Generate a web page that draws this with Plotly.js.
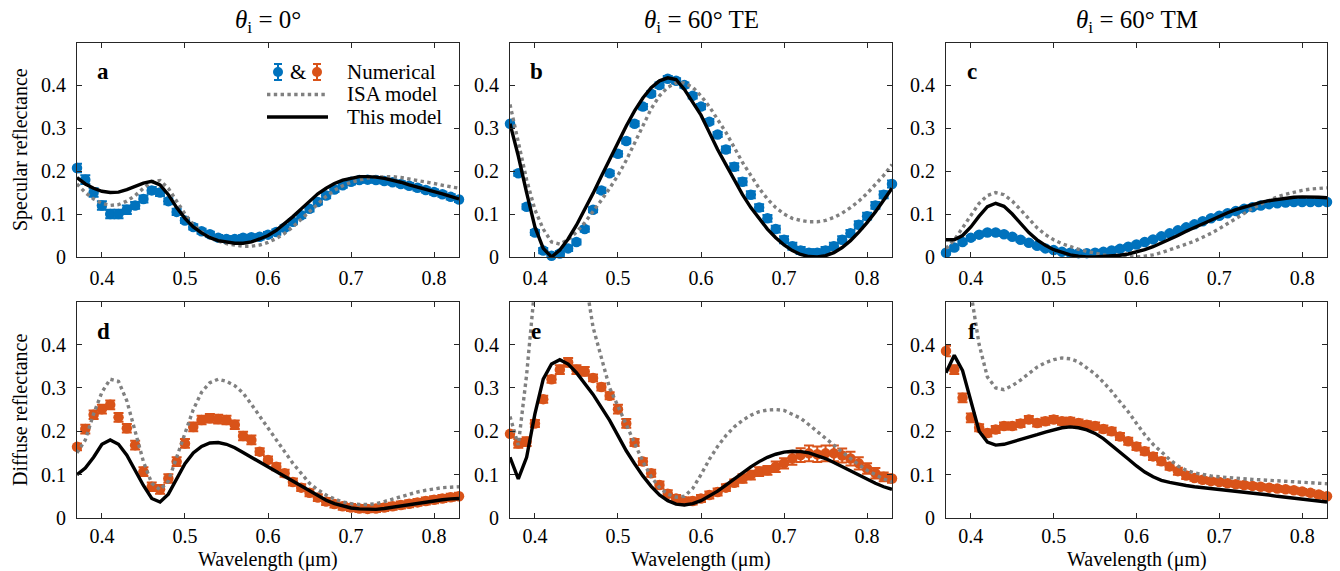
<!DOCTYPE html>
<html>
<head>
<meta charset="utf-8">
<script src="https://cdn.plot.ly/plotly-3.0.1.min.js"></script>
<style>html,body{margin:0;padding:0;background:#fff;}#chart{width:1340px;height:571px;}</style>
</head>
<body>
<div id="chart"></div>
<script>
// Wavelength grid (µm)
const lam = [0.37,0.38,0.39,0.40,0.41,0.42,0.43,0.44,0.45,0.46,0.47,0.48,0.49,0.50,0.51,0.52,0.53,0.54,0.55,0.56,0.57,0.58,0.59,0.60,0.61,0.62,0.63,0.64,0.65,0.66,0.67,0.68,0.69,0.70,0.71,0.72,0.73,0.74,0.75,0.76,0.77,0.78,0.79,0.80,0.81,0.82,0.83];

// Panel a: specular, theta = 0
const numA = [0.207,0.18,0.15,0.12,0.10,0.10,0.11,0.12,0.135,0.155,0.15,0.13,0.105,0.085,0.07,0.06,0.053,0.045,0.042,0.042,0.045,0.046,0.047,0.052,0.058,0.068,0.082,0.097,0.112,0.128,0.143,0.157,0.167,0.175,0.179,0.18,0.179,0.177,0.174,0.17,0.166,0.161,0.156,0.151,0.146,0.14,0.134];
const errA = [0.01,0.01,0.01,0.01,0.01,0.01,0.01,0.008,0.008,0.008,0.008,0.007,0.007,0.006,0.006,0.006,0.006,0.006,0.006,0.006,0.006,0.006,0.006,0.006,0.006,0.006,0.006,0.006,0.006,0.006,0.006,0.006,0.006,0.006,0.006,0.006,0.006,0.006,0.006,0.006,0.006,0.006,0.006,0.006,0.006,0.006,0.006];
const isaA = [0.17,0.15,0.135,0.125,0.12,0.122,0.13,0.143,0.16,0.175,0.178,0.16,0.13,0.1,0.075,0.058,0.046,0.037,0.031,0.027,0.025,0.025,0.028,0.034,0.043,0.055,0.07,0.088,0.106,0.124,0.141,0.155,0.166,0.174,0.18,0.184,0.186,0.187,0.187,0.185,0.182,0.179,0.175,0.171,0.167,0.163,0.16];
const modA = [0.185,0.17,0.16,0.153,0.15,0.151,0.157,0.165,0.172,0.176,0.168,0.145,0.115,0.09,0.07,0.056,0.045,0.038,0.034,0.032,0.032,0.035,0.042,0.05,0.062,0.077,0.094,0.112,0.13,0.147,0.16,0.171,0.179,0.184,0.187,0.187,0.186,0.183,0.179,0.174,0.168,0.162,0.157,0.152,0.147,0.141,0.135];

// Panel b: specular, theta = 60 TE
const numB = [0.31,0.195,0.117,0.057,0.015,0.003,0.008,0.02,0.035,0.065,0.11,0.155,0.195,0.24,0.27,0.31,0.35,0.38,0.40,0.415,0.41,0.40,0.375,0.35,0.315,0.285,0.25,0.21,0.175,0.145,0.115,0.09,0.065,0.04,0.025,0.015,0.01,0.01,0.015,0.025,0.04,0.055,0.075,0.095,0.12,0.145,0.17];
const errB = [0.008,0.006,0.006,0.006,0.006,0.006,0.006,0.006,0.006,0.006,0.006,0.006,0.006,0.006,0.006,0.006,0.006,0.006,0.006,0.006,0.006,0.006,0.006,0.006,0.006,0.006,0.007,0.008,0.008,0.008,0.008,0.008,0.008,0.008,0.008,0.008,0.008,0.008,0.008,0.008,0.008,0.008,0.008,0.008,0.008,0.008,0.008];
const isaB = [0.355,0.265,0.18,0.11,0.065,0.035,0.03,0.04,0.058,0.08,0.105,0.132,0.16,0.19,0.225,0.265,0.305,0.345,0.375,0.395,0.405,0.405,0.395,0.375,0.35,0.32,0.29,0.255,0.22,0.19,0.16,0.135,0.115,0.1,0.09,0.085,0.082,0.082,0.085,0.092,0.102,0.115,0.13,0.148,0.168,0.19,0.215];
const modB = [0.31,0.235,0.15,0.07,0.02,0.0,0.016,0.042,0.074,0.109,0.148,0.188,0.228,0.267,0.305,0.34,0.37,0.394,0.41,0.417,0.413,0.39,0.36,0.33,0.29,0.25,0.215,0.18,0.145,0.115,0.09,0.065,0.045,0.028,0.015,0.006,0.001,0.0,0.003,0.01,0.022,0.038,0.058,0.08,0.105,0.132,0.16];

// Panel c: specular, theta = 60 TM
const numC = [0.01,0.022,0.035,0.045,0.052,0.057,0.057,0.053,0.047,0.04,0.033,0.026,0.02,0.016,0.012,0.01,0.009,0.009,0.01,0.012,0.015,0.019,0.024,0.029,0.035,0.041,0.048,0.055,0.062,0.069,0.076,0.083,0.09,0.096,0.102,0.107,0.112,0.116,0.12,0.123,0.125,0.127,0.128,0.128,0.128,0.128,0.128];
const errC = [0.004,0.004,0.004,0.004,0.004,0.004,0.004,0.004,0.004,0.004,0.004,0.004,0.004,0.004,0.004,0.004,0.004,0.004,0.004,0.004,0.004,0.004,0.004,0.004,0.004,0.004,0.004,0.004,0.004,0.004,0.004,0.004,0.004,0.004,0.004,0.004,0.004,0.004,0.004,0.004,0.004,0.004,0.004,0.004,0.004,0.004,0.004];
const isaC = [0.02,0.04,0.068,0.098,0.125,0.143,0.15,0.145,0.13,0.11,0.088,0.068,0.052,0.04,0.031,0.024,0.018,0.013,0.008,0.005,0.002,0.001,0.0,0.0,0.002,0.005,0.01,0.016,0.023,0.03,0.037,0.045,0.055,0.066,0.078,0.09,0.102,0.113,0.123,0.132,0.14,0.146,0.151,0.155,0.158,0.16,0.161];
const modC = [0.04,0.04,0.05,0.07,0.095,0.117,0.125,0.118,0.1,0.078,0.057,0.04,0.027,0.017,0.01,0.005,0.002,0.0,0.0,0.001,0.002,0.004,0.007,0.011,0.017,0.024,0.032,0.041,0.05,0.06,0.069,0.078,0.087,0.095,0.103,0.11,0.116,0.122,0.127,0.131,0.134,0.137,0.139,0.14,0.14,0.139,0.138];

// Panel d: diffuse, theta = 0
const numD = [0.164,0.205,0.238,0.251,0.261,0.232,0.207,0.168,0.107,0.072,0.066,0.091,0.13,0.172,0.21,0.226,0.23,0.228,0.226,0.215,0.189,0.18,0.153,0.134,0.118,0.103,0.083,0.07,0.058,0.047,0.038,0.032,0.027,0.024,0.022,0.021,0.022,0.024,0.027,0.03,0.033,0.036,0.039,0.042,0.045,0.048,0.05];
const errD = [0.008,0.01,0.01,0.01,0.01,0.01,0.01,0.01,0.01,0.01,0.01,0.01,0.01,0.01,0.01,0.01,0.01,0.01,0.01,0.01,0.01,0.01,0.008,0.008,0.008,0.008,0.008,0.008,0.008,0.008,0.008,0.008,0.008,0.008,0.008,0.008,0.008,0.008,0.008,0.008,0.008,0.008,0.008,0.008,0.008,0.008,0.008];
const isaD = [0.15,0.18,0.24,0.29,0.32,0.315,0.27,0.2,0.13,0.08,0.065,0.085,0.14,0.2,0.25,0.29,0.312,0.32,0.315,0.305,0.288,0.262,0.234,0.207,0.18,0.153,0.126,0.102,0.08,0.065,0.053,0.044,0.037,0.033,0.031,0.031,0.033,0.038,0.044,0.05,0.055,0.06,0.064,0.068,0.07,0.071,0.072];
const modD = [0.1,0.115,0.14,0.17,0.18,0.17,0.145,0.11,0.075,0.045,0.037,0.055,0.09,0.125,0.15,0.165,0.173,0.174,0.17,0.162,0.151,0.14,0.129,0.118,0.107,0.095,0.083,0.072,0.061,0.05,0.041,0.033,0.027,0.023,0.021,0.02,0.02,0.022,0.025,0.028,0.031,0.034,0.037,0.04,0.042,0.044,0.045];

// Panel e: diffuse, theta = 60 TE
const numE = [0.194,0.172,0.176,0.218,0.274,0.32,0.342,0.359,0.342,0.338,0.323,0.302,0.282,0.251,0.218,0.174,0.13,0.103,0.076,0.056,0.045,0.039,0.039,0.045,0.053,0.06,0.07,0.081,0.091,0.099,0.107,0.11,0.118,0.126,0.137,0.145,0.149,0.147,0.149,0.149,0.144,0.137,0.126,0.114,0.103,0.095,0.091];
const errE = [0.008,0.01,0.01,0.008,0.008,0.008,0.01,0.01,0.01,0.01,0.008,0.008,0.008,0.01,0.01,0.008,0.008,0.008,0.008,0.008,0.008,0.008,0.008,0.008,0.008,0.008,0.008,0.008,0.01,0.01,0.01,0.01,0.012,0.012,0.014,0.016,0.018,0.018,0.018,0.018,0.016,0.016,0.014,0.012,0.012,0.01,0.01];
const isaE = [0.234,0.168,0.33,0.62,0.85,0.95,0.9,0.78,0.66,0.56,0.44,0.37,0.3,0.258,0.215,0.172,0.13,0.095,0.07,0.055,0.048,0.05,0.068,0.1,0.135,0.165,0.19,0.21,0.225,0.237,0.245,0.249,0.25,0.248,0.24,0.23,0.215,0.2,0.185,0.168,0.152,0.137,0.123,0.11,0.1,0.09,0.083];
const modE = [0.14,0.09,0.14,0.24,0.32,0.355,0.365,0.355,0.335,0.31,0.285,0.255,0.225,0.19,0.155,0.125,0.097,0.073,0.053,0.04,0.032,0.03,0.033,0.04,0.05,0.062,0.076,0.09,0.105,0.118,0.13,0.14,0.147,0.152,0.154,0.153,0.15,0.144,0.137,0.128,0.118,0.108,0.098,0.088,0.08,0.072,0.066];

// Panel f: diffuse, theta = 60 TM
const numF = [0.385,0.342,0.277,0.231,0.208,0.196,0.204,0.212,0.212,0.218,0.227,0.219,0.223,0.227,0.223,0.223,0.219,0.215,0.212,0.205,0.2,0.188,0.177,0.165,0.154,0.142,0.131,0.119,0.108,0.098,0.092,0.088,0.085,0.083,0.08,0.078,0.076,0.074,0.072,0.07,0.068,0.066,0.064,0.061,0.058,0.054,0.05];
const errF = [0.012,0.01,0.01,0.01,0.008,0.008,0.008,0.008,0.008,0.008,0.008,0.008,0.008,0.008,0.008,0.008,0.008,0.008,0.008,0.008,0.008,0.008,0.008,0.008,0.008,0.008,0.008,0.008,0.008,0.008,0.006,0.006,0.006,0.006,0.006,0.006,0.006,0.006,0.006,0.006,0.006,0.006,0.006,0.006,0.006,0.006,0.006];
const isaF = [0.9,0.75,0.62,0.52,0.4,0.325,0.3,0.296,0.305,0.318,0.334,0.348,0.358,0.365,0.369,0.367,0.36,0.347,0.332,0.313,0.292,0.268,0.245,0.218,0.192,0.17,0.152,0.135,0.12,0.11,0.104,0.1,0.097,0.095,0.093,0.092,0.09,0.089,0.088,0.087,0.086,0.085,0.084,0.082,0.081,0.08,0.079];
const modF = [0.335,0.375,0.34,0.27,0.2,0.175,0.168,0.17,0.175,0.18,0.186,0.192,0.198,0.204,0.208,0.21,0.208,0.203,0.195,0.183,0.168,0.152,0.136,0.12,0.106,0.095,0.087,0.082,0.078,0.075,0.072,0.07,0.068,0.066,0.064,0.062,0.06,0.058,0.055,0.053,0.05,0.048,0.046,0.043,0.041,0.039,0.037];

// Texts
const colTitles = ['<i>θ</i><sub>i</sub> = 0°', '<i>θ</i><sub>i</sub> = 60° TE', '<i>θ</i><sub>i</sub> = 60° TM'];
const panelLetters = ['a','b','c','d','e','f'];
const rowTitles = ['Specular reflectance', 'Diffuse reflectance'];
const xTitle = 'Wavelength (μm)';
const legendLabels = ['Numerical', 'ISA model', 'This model'];
const xTicks = [0.4, 0.5, 0.6, 0.7, 0.8];
const yTicks = [0, 0.1, 0.2, 0.3, 0.4];
const yTickText = ['0', '0.1', '0.2', '0.3', '0.4'];

const BLUE = '#0072BD', ORANGE = '#D95319', GRAY = '#808080';
const FONT = 'Liberation Serif';
const W = 1340, H = 571;
const cols = [[77, 459], [510, 892], [946, 1327]];
const rows = [[43, 257], [302, 518]];

const panels = [
  {num: numA, err: errA, isa: isaA, mod: modA, color: BLUE},
  {num: numB, err: errB, isa: isaB, mod: modB, color: BLUE},
  {num: numC, err: errC, isa: isaC, mod: modC, color: BLUE},
  {num: numD, err: errD, isa: isaD, mod: modD, color: ORANGE},
  {num: numE, err: errE, isa: isaE, mod: modE, color: ORANGE},
  {num: numF, err: errF, isa: isaF, mod: modF, color: ORANGE}
];

const traces = [];
const layout = {
  width: W, height: H,
  margin: {l: 0, r: 0, t: 0, b: 0},
  paper_bgcolor: '#fff', plot_bgcolor: '#fff',
  showlegend: false,
  font: {family: FONT, color: '#000', size: 20},
  annotations: [], shapes: []
};

panels.forEach((p, i) => {
  const sfx = i === 0 ? '' : String(i + 1);
  const xa = 'x' + sfx, ya = 'y' + sfx;
  const r = Math.floor(i / 3), c = i % 3;
  traces.push({
    x: lam, y: p.num, type: 'scatter', mode: 'markers', xaxis: xa, yaxis: ya,
    cliponaxis: false, hoverinfo: 'skip',
    marker: {color: p.color, size: 10.5},
    error_y: {type: 'data', array: p.err, visible: true, color: p.color, thickness: 2, width: 5}
  });
  traces.push({
    x: lam, y: p.isa, type: 'scatter', mode: 'lines', xaxis: xa, yaxis: ya,
    line: {color: GRAY, width: 3.4, dash: 'dot'}, hoverinfo: 'skip'
  });
  traces.push({
    x: lam, y: p.mod, type: 'scatter', mode: 'lines', xaxis: xa, yaxis: ya,
    line: {color: '#000', width: 3.4}, hoverinfo: 'skip'
  });
  const common = {
    showline: true, mirror: 'ticks', ticks: 'inside', ticklen: 5, tickwidth: 1,
    linecolor: '#262626', tickcolor: '#262626', linewidth: 1,
    showgrid: false, zeroline: false,
    tickfont: {family: FONT, size: 20, color: '#000'}
  };
  layout['xaxis' + sfx] = Object.assign({}, common, {
    domain: [cols[c][0] / W, cols[c][1] / W],
    anchor: ya, range: [0.37, 0.83], tickvals: xTicks,
    ticktext: xTicks.map(v => v.toFixed(1)),
    ticklabelstandoff: r === 0 ? 3 : 0
  });
  layout['yaxis' + sfx] = Object.assign({}, common, {
    domain: [1 - rows[r][1] / H, 1 - rows[r][0] / H],
    anchor: xa, range: [0, 0.498], tickvals: yTicks, ticktext: yTickText,
    ticklabelstandoff: 6
  });
  layout.annotations.push({
    xref: xa + ' domain', yref: ya + ' domain', x: 26 / 382, y: 1 - 29 / 214,
    text: '<b>' + panelLetters[i] + '</b>', showarrow: false,
    xanchor: 'center', yanchor: 'middle',
    font: {family: FONT, size: 23, color: '#000'}
  });
  if (r === 1) {
    layout.annotations.push({
      xref: xa + ' domain', yref: 'paper', x: 0.5, y: 1 - 559.5 / H,
      text: xTitle, showarrow: false, xanchor: 'center', yanchor: 'middle',
      font: {family: FONT, size: 20, color: '#000'}
    });
  }
  if (c === 0) {
    layout.annotations.push({
      xref: 'paper', yref: ya + ' domain', x: 20 / W, y: 0.5,
      text: rowTitles[r], showarrow: false, textangle: -90, xanchor: 'center', yanchor: 'middle',
      font: {family: FONT, size: 20, color: '#000'}
    });
  }
});

// Column titles
colTitles.forEach((t, c) => {
  layout.annotations.push({
    xref: 'paper', yref: 'paper', x: (cols[c][0] + cols[c][1]) / 2 / W, y: 1 - 22 / H,
    text: t, showarrow: false, xanchor: 'center', yanchor: 'middle',
    font: {family: FONT, size: 25, color: '#000'}
  });
});

// Manual legend in panel a (pixel positions converted to paper coords)
const px = v => v / W, py = v => 1 - v / H;
const legRows = [72, 94.5, 117];
function errMarker(cx, cy, color) {
  layout.shapes.push({type: 'line', xref: 'paper', yref: 'paper', x0: px(cx), x1: px(cx), y0: py(cy - 8), y1: py(cy + 8), line: {color: color, width: 2}});
  layout.shapes.push({type: 'line', xref: 'paper', yref: 'paper', x0: px(cx - 4), x1: px(cx + 4), y0: py(cy - 8), y1: py(cy - 8), line: {color: color, width: 2}});
  layout.shapes.push({type: 'line', xref: 'paper', yref: 'paper', x0: px(cx - 4), x1: px(cx + 4), y0: py(cy + 8), y1: py(cy + 8), line: {color: color, width: 2}});
  layout.shapes.push({type: 'circle', xref: 'paper', yref: 'paper', x0: px(cx - 5), x1: px(cx + 5), y0: py(cy + 5), y1: py(cy - 5), fillcolor: color, line: {color: color, width: 0}});
}
errMarker(278, legRows[0], BLUE);
errMarker(317, legRows[0], ORANGE);
layout.annotations.push({xref: 'paper', yref: 'paper', x: px(297.5), y: py(legRows[0]), text: '&', showarrow: false, xanchor: 'center', yanchor: 'middle', font: {family: FONT, size: 21, color: '#000'}});
layout.shapes.push({type: 'line', xref: 'paper', yref: 'paper', x0: px(267), x1: px(328), y0: py(legRows[1]), y1: py(legRows[1]), line: {color: GRAY, width: 3.4, dash: 'dot'}});
layout.shapes.push({type: 'line', xref: 'paper', yref: 'paper', x0: px(267), x1: px(328), y0: py(legRows[2]), y1: py(legRows[2]), line: {color: '#000', width: 3.4}});
legendLabels.forEach((t, k) => {
  layout.annotations.push({xref: 'paper', yref: 'paper', x: px(345), y: py(legRows[k]), text: t, showarrow: false, xanchor: 'left', yanchor: 'middle', font: {family: FONT, size: 21, color: '#000'}});
});

Plotly.newPlot('chart', traces, layout, {staticPlot: true, displayModeBar: false});
</script>
</body>
</html>
